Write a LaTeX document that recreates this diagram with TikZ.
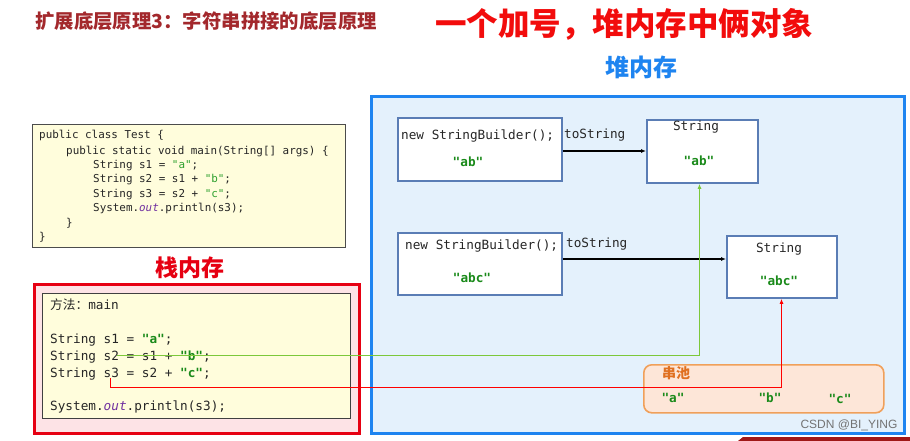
\documentclass[tikz,border=0pt]{standalone}
\usepackage{fontspec}
\usetikzlibrary{arrows.meta}
\newfontfamily\cjk{Noto Sans CJK SC}
\newfontfamily\mono{DejaVu Sans Mono}
\newfontfamily\wmfont{Liberation Sans}
\definecolor{titledark}{HTML}{A3282C}
\definecolor{titlered}{HTML}{F20C0C}
\definecolor{heapblue}{HTML}{1E84F0}
\definecolor{heapfill}{HTML}{E4F1FC}
\definecolor{stackred}{HTML}{E60012}
\definecolor{stackfill}{HTML}{FDE3E6}
\definecolor{codefill}{HTML}{FFFDDC}
\definecolor{boxblue}{HTML}{5A7DB5}
\definecolor{poolfill}{HTML}{FDE6D8}
\definecolor{pooldraw}{HTML}{F0A05A}
\definecolor{pooltext}{HTML}{E07020}
\definecolor{strgreen}{HTML}{1A8A1A}
\definecolor{litgreen}{HTML}{2EA02E}
\definecolor{linegreen}{HTML}{7CC83A}
\definecolor{linered}{HTML}{FF0000}
\definecolor{outpurple}{HTML}{7030A0}
\definecolor{barred}{HTML}{A01818}
\newcommand{\lit}[1]{{\color{litgreen}#1}}
\newcommand{\slit}[1]{{\color{strgreen}\bfseries #1}}
\newcommand{\outw}[1]{{\color{outpurple}\itshape #1}}
\begin{document}
\begin{tikzpicture}[x=1pt,y=-1pt,
  codeA/.style={anchor=base west, inner sep=0, text=black!85, font=\mono\fontsize{10.9}{13}\selectfont},
  codeB/.style={anchor=base west, inner sep=0, text=black!85, font=\mono\fontsize{12.7}{15}\selectfont},
  monolbl/.style={inner sep=0, text=black!85, font=\mono\fontsize{12.7}{15}\selectfont},
  grnlbl/.style={inner sep=0, text=strgreen, font=\mono\bfseries\fontsize{12.7}{15}\selectfont},
  heapbox/.style={draw=boxblue, line width=1.8pt, fill=white, inner sep=0, anchor=north west},
  tostr/.style={draw=black, line width=1.6pt, -{Latex[length=5pt,width=4pt]}},
  greenref/.style={color=linegreen, line width=1.6pt, -{Latex[length=5pt,width=4pt]}},
  redref/.style={color=linered, line width=1.6pt, -{Latex[length=5pt,width=4pt]}}
]
\useasboundingbox (0,0) rectangle (910,441);
\fill[white] (0,0) rectangle (910,441);

% titles
\node[anchor=west, inner sep=0, text=titledark, font=\cjk\bfseries\fontsize{19.4}{21}\selectfont] (t1) at (35,21) {扩展底层原理3：字符串拼接的底层原理};
\node[inner sep=0, text=titlered, font=\cjk\bfseries\fontsize{31.5}{34}\selectfont] (t2) at (624,24) {一个加号，堆内存中俩对象};
\node[inner sep=0, text=heapblue, font=\cjk\bfseries\fontsize{24}{26}\selectfont] (heaplbl) at (641,67) {堆内存};

% heap area
\node[draw=heapblue, line width=3pt, fill=heapfill, inner sep=0, anchor=north west, minimum width=533pt, minimum height=337pt] (heap) at (370,95) {};

% top code box
\node[draw=black!70, line width=0.9pt, fill=codefill, inner sep=0, anchor=north west, minimum width=313pt, minimum height=123pt] (codebox) at (32,124) {};
\node[codeA] (c1) at (39,139) {public class Test \{};
\node[codeA] (c2) at (66,154) {public static void main(String[] args) \{};
\node[codeA] (c3) at (93,168) {String s1 = \lit{"a"};};
\node[codeA] (c4) at (93,182.5) {String s2 = s1 + \lit{"b"};};
\node[codeA] (c5) at (93,197) {String s3 = s2 + \lit{"c"};};
\node[codeA] (c6) at (93,211.5) {System.\outw{out}.println(s3);};
\node[codeA] (c7) at (66,226) {\}};
\node[codeA] (c8) at (39,240.5) {\}};

% stack
\node[inner sep=0, text=stackred, font=\cjk\bfseries\fontsize{23}{25}\selectfont] (stacklbl) at (190,268) {栈内存};
\node[draw=stackred, line width=3pt, fill=stackfill, inner sep=0, anchor=north west, minimum width=325pt, minimum height=149pt] (stack) at (33,283) {};
\node[draw=black!75, line width=1.2pt, fill=codefill, inner sep=0, anchor=north west, minimum width=308pt, minimum height=125pt] (frame) at (42,293) {};
\node[codeB] (m0) at (50,309.5) {{\cjk 方法：}main};
\node[codeB] (m1) at (50,343.5) {String s1 = \slit{"a"};};
\node[codeB] (m2) at (50,360.5) {String s2 = s1 + \slit{"b"};};
\node[codeB] (m3) at (50,377.5) {String s3 = s2 + \slit{"c"};};
\node[codeB] (m4) at (50,410.5) {System.\outw{out}.println(s3);};

% heap objects
\node[heapbox, minimum width=164pt, minimum height=63pt] (sb1) at (397,117) {};
\node[monolbl, anchor=base west] (sb1t) at (401,139.5) {new StringBuilder();};
\node[grnlbl] (sb1v) at (468,162) {"ab"};
\node[heapbox, minimum width=111pt, minimum height=63pt] (str1) at (646,119) {};
\node[monolbl] (str1t) at (696,127) {String};
\node[grnlbl] (str1v) at (699,161) {"ab"};
\node[monolbl, anchor=base west] (ts1) at (564,138.5) {toString};

\node[heapbox, minimum width=164pt, minimum height=62pt] (sb2) at (397,232) {};
\node[monolbl, anchor=base west] (sb2t) at (405,249.5) {new StringBuilder();};
\node[grnlbl] (sb2v) at (472,278) {"abc"};
\node[heapbox, minimum width=110pt, minimum height=62pt] (str2) at (726,235) {};
\node[monolbl] (str2t) at (779,249) {String};
\node[grnlbl] (str2v) at (779,281) {"abc"};
\node[monolbl, anchor=base west] (ts2) at (566,247.5) {toString};

% string pool
\node[draw=pooldraw, line width=1.6pt, fill=poolfill, rounded corners=8pt, inner sep=0, anchor=north west, minimum width=240pt, minimum height=48pt] (pool) at (643,364) {};
\node[inner sep=0, text=pooltext, font=\cjk\bfseries\fontsize{14}{16}\selectfont] (poollbl) at (676,373) {串池};
\node[grnlbl] (pa) at (673,398) {"a"};
\node[grnlbl] (pb) at (770,398) {"b"};
\node[grnlbl] (pc) at (840,399) {"c"};

% toString arrows
\coordinate (y1) at (0,151);
\coordinate (y2) at (0,259);
\draw[tostr] (sb1.east |- y1) -- (str1.west |- y1);
\draw[tostr] (sb2.east |- y2) -- (str2.west |- y2);

% references from stack
\coordinate (s2p) at (117,355.5);
\coordinate (s3p) at (110.5,378);
\coordinate (g1) at (699.5,0);
\coordinate (r1) at (781.5,0);
\coordinate (rb) at (0,387.5);
\draw[greenref] (s2p) -- (s2p -| g1) -- (g1 |- str1.south);
\draw[redref] (s3p) -- (s3p |- rb) -- (rb -| r1) -- (r1 |- str2.south);

% watermark and slide remnant
\node[inner sep=0, text=black!55, font=\wmfont\fontsize{12}{14}\selectfont] (wm) at (849,425) {CSDN @BI\_YING};
\fill[barred] (738,441) -- (743,437) -- (910,437) -- (910,441) -- cycle;
\end{tikzpicture}
\end{document}
